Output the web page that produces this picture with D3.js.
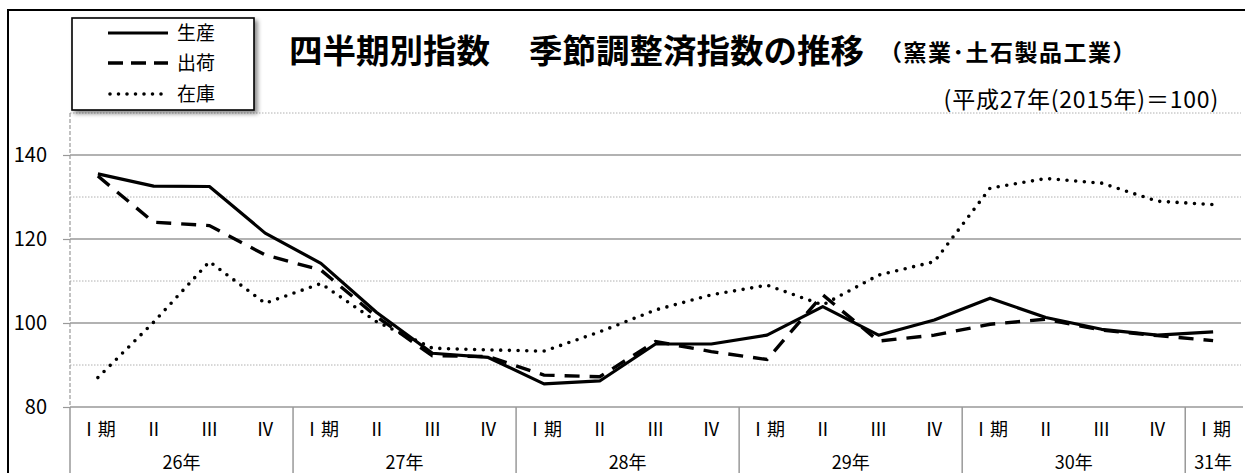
<!DOCTYPE html>
<html><head><meta charset="utf-8">
<script src="https://cdn.jsdelivr.net/npm/d3@7"></script>
<style>
html,body{margin:0;padding:0;background:#fff;}
svg{display:block;font-family:"Noto Sans CJK JP","Noto Sans",sans-serif;}
</style></head>
<body><svg id="c" width="1245" height="473"></svg>
<script>
const quarters = ["Ⅰ期","Ⅱ","Ⅲ","Ⅳ","Ⅰ期","Ⅱ","Ⅲ","Ⅳ","Ⅰ期","Ⅱ","Ⅲ","Ⅳ","Ⅰ期","Ⅱ","Ⅲ","Ⅳ","Ⅰ期","Ⅱ","Ⅲ","Ⅳ","Ⅰ期"];
const years = ["26年","27年","28年","29年","30年","31年"];
const yearCounts = [4,4,4,4,4,1];
const production = [135.5,132.6,132.5,121.4,114.2,102.5,92.8,91.8,85.5,86.2,95.0,95.0,97.1,103.9,97.1,100.7,105.9,101.3,98.5,97.1,97.9];
const shipments  = [135.0,124.0,123.2,116.2,112.6,101.5,92.2,92.0,87.6,87.2,95.6,93.2,91.3,106.7,95.7,97.1,99.7,100.9,98.3,97.0,95.8];
const inventory  = [87.0,100.2,114.6,104.7,109.4,100.3,94.0,93.6,93.3,97.9,103.1,106.7,109.0,104.3,111.4,114.6,132.1,134.4,133.3,129.0,128.2];
const majorTicks = [80,100,120,140];
const minorTicks = [90,110,130,150];
const seriesNames = ["生産","出荷","在庫"];

const svg = d3.select("#c");
const L = 70, R = 1241, T = 113, B = 407;
const x = d3.scaleBand().domain(d3.range(quarters.length)).range([L, R]);
const y = d3.scaleLinear().domain([80,150]).range([B, T]);

// outer frame
svg.append("rect").attr("x",8).attr("y",10).attr("width",1300).attr("height",600)
  .attr("fill","none").attr("stroke","#000").attr("stroke-width",2);

// gridlines
svg.append("g").selectAll("line").data(minorTicks).join("line")
  .attr("x1",L).attr("x2",R).attr("y1",d=>y(d)).attr("y2",d=>y(d))
  .attr("stroke","#b0b0b0").attr("stroke-width",1).attr("stroke-dasharray","1.5 1.5");
svg.append("g").selectAll("line").data(majorTicks.filter(d=>d>80)).join("line")
  .attr("x1",L).attr("x2",R).attr("y1",d=>y(d)).attr("y2",d=>y(d))
  .attr("stroke","#999").attr("stroke-width",1.5);

// left dashed axis line
svg.append("line").attr("x1",L).attr("x2",L).attr("y1",T).attr("y2",B)
  .attr("stroke","#999").attr("stroke-width",1.2).attr("stroke-dasharray","4 2");

// y axis
const yAxis = d3.axisLeft(y).tickValues(majorTicks).tickSize(7).tickPadding(16);
const ga = svg.append("g").attr("transform",`translate(${L},0)`).call(yAxis);
ga.select(".domain").remove();
ga.selectAll(".tick line").attr("stroke","#999").attr("stroke-width",1.2);
ga.selectAll(".tick text").attr("font-size",20).attr("fill","#000")
  .attr("font-family","'Noto Sans CJK JP',sans-serif");

// x axis base line
svg.append("line").attr("x1",L).attr("x2",R+2).attr("y1",B).attr("y2",B)
  .attr("stroke","#999").attr("stroke-width",1.5);

// quarter labels
svg.append("g").selectAll("text").data(quarters).join("text")
  .attr("x",(d,i)=>x(i)+x.bandwidth()/2).attr("y",436)
  .attr("text-anchor","middle").attr("font-size",18).attr("fill","#000")
  .text(d=>d);

// year groups
let start = 0;
const groups = years.map((yr,i)=>{ const g={label:yr,s:start,e:start+yearCounts[i]}; start+=yearCounts[i]; return g; });
const bounds = [L].concat(groups.map(g=> g.e < quarters.length ? x(g.e) : null).filter(v=>v!==null));
svg.append("g").selectAll("line").data(bounds).join("line")
  .attr("x1",d=>d).attr("x2",d=>d).attr("y1",B).attr("y2",473)
  .attr("stroke","#999").attr("stroke-width",1.5);
svg.append("g").selectAll("text").data(groups).join("text")
  .attr("x",g=>(x(g.s) + (g.e<quarters.length? x(g.e) : R))/2).attr("y",469)
  .attr("text-anchor","middle").attr("font-size",18).attr("fill","#000")
  .text(g=>g.label);

// lines
const line = d3.line().x((d,i)=>x(i)+x.bandwidth()/2).y(d=>y(d));
svg.append("path").datum(inventory).attr("d",line).attr("fill","none")
  .attr("stroke","#000").attr("stroke-width",3.6).attr("stroke-linecap","round")
  .attr("stroke-dasharray","0 8.7");
svg.append("path").datum(shipments).attr("d",line).attr("fill","none")
  .attr("stroke","#000").attr("stroke-width",3.4).attr("stroke-dasharray","15 10");
svg.append("path").datum(production).attr("d",line).attr("fill","none")
  .attr("stroke","#000").attr("stroke-width",3.2).attr("stroke-linejoin","round");

// legend
const defs = svg.append("defs");
const f = defs.append("filter").attr("id","sh").attr("x","-10%").attr("y","-10%").attr("width","130%").attr("height","140%");
f.append("feDropShadow").attr("dx",3).attr("dy",3).attr("stdDeviation",2).attr("flood-color","#000").attr("flood-opacity",0.45);
const lg = svg.append("g");
lg.append("rect").attr("x",72).attr("y",18).attr("width",182).attr("height",92)
  .attr("fill","#fff").attr("stroke","#000").attr("stroke-width",1.6).attr("filter","url(#sh)");
const dashes = [null,"15 8","0 8.5"];
const widths = [3.2,3.4,3.6];
const ly = [33,63,94];
seriesNames.forEach((n,i)=>{
  const l = lg.append("line").attr("x1",108).attr("x2",168).attr("y1",ly[i]).attr("y2",ly[i])
    .attr("stroke","#000").attr("stroke-width",widths[i]);
  if (dashes[i]) l.attr("stroke-dasharray",dashes[i]);
  if (i===2) l.attr("stroke-linecap","round").attr("x1",110).attr("x2",164);
  lg.append("text").attr("x",177).attr("y",ly[i]+7).attr("font-size",19).attr("fill","#000").text(n);
});

// titles
svg.append("text").attr("x",289).attr("y",63).attr("font-size",33.5).attr("font-weight","bold").attr("fill","#000").text("四半期別指数");
svg.append("text").attr("x",529).attr("y",63).attr("font-size",33.5).attr("font-weight","bold").attr("fill","#000").text("季節調整済指数の推移");
svg.append("text").attr("x",879).attr("y",61).attr("font-size",23).attr("letter-spacing",1.5).attr("font-weight","bold").attr("fill","#000").text("（窯業･土石製品工業）");
svg.append("text").attr("x",1219).attr("y",108).attr("text-anchor","end").attr("font-size",23).attr("letter-spacing",0.8).attr("fill","#000").text("(平成27年(2015年)＝100)");
</script></body></html>
